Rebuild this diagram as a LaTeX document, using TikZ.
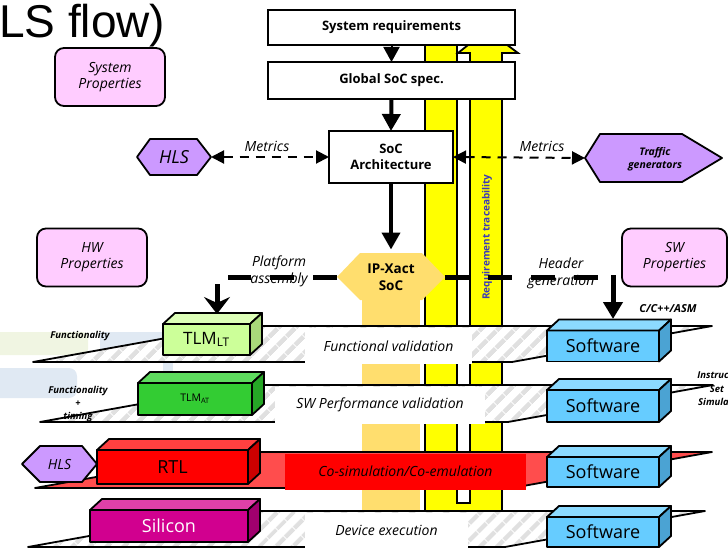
\documentclass[tikz,border=0pt]{standalone}
\usepackage{fontspec}
\setmainfont{Open Sans}
\newfontfamily\titlefont{Liberation Sans}
\usetikzlibrary{arrows.meta,calc,patterns.meta}

\definecolor{pinkbox}{HTML}{FFCCFF}
\definecolor{lav}{HTML}{CC99FF}
\definecolor{trace}{HTML}{FFFF00}
\definecolor{ipxc}{HTML}{FFDE6E}
\definecolor{traceblue}{HTML}{3A3AB8}
\definecolor{ltfront}{HTML}{CCFF99}
\definecolor{lttop}{HTML}{DDFFB8}
\definecolor{ltside}{HTML}{A8D87A}
\definecolor{atfront}{HTML}{33CC33}
\definecolor{attop}{HTML}{5EDB5E}
\definecolor{atside}{HTML}{26A626}
\definecolor{rtlfront}{HTML}{FF0000}
\definecolor{rtltop}{HTML}{FF4040}
\definecolor{rtlside}{HTML}{CC0000}
\definecolor{sifront}{HTML}{D1008F}
\definecolor{sitop}{HTML}{E040A8}
\definecolor{siside}{HTML}{A0006E}
\definecolor{swfront}{HTML}{66CCFF}
\definecolor{swtop}{HTML}{8CDAFF}
\definecolor{swside}{HTML}{4BA3D3}
\definecolor{plred}{HTML}{FF4D4D}
\definecolor{wmgreen}{HTML}{F0F5E2}
\definecolor{wmblue}{HTML}{E0E9F3}

% top and side faces of a cuboid whose front face is node #1
\newcommand\cubefaces[3]{%
  \draw[face,fill=#2] (#1.north west) -- ++(12,-11) -- ($(#1.north east)+(12,-11)$) -- (#1.north east) -- cycle;
  \draw[face,fill=#3] (#1.north east) -- ++(12,-11) -- ($(#1.south east)+(12,-11)$) -- (#1.south east) -- cycle;}

\begin{document}
\begin{tikzpicture}[x=1pt,y=-1pt,
  box/.style={draw, line width=1.8pt, fill=white, inner sep=0pt, outer sep=0pt, align=center,
    font=\bfseries\fontsize{13}{16}\selectfont},
  prop/.style={draw, line width=1.8pt, fill=pinkbox, rounded corners=9pt, inner sep=0pt,
    align=center, font=\itshape\fontsize{14}{16}\selectfont},
  hexa/.style={draw, line width=1.8pt, fill=lav, line join=round},
  spot/.style={inner sep=0pt, outer sep=0pt, align=center},
  cube/.style={draw, line width=1.8pt, inner sep=0pt, outer sep=0pt, line join=round},
  face/.style={draw, line width=1.8pt, line join=round},
  sw/.style={cube, fill=swfront, minimum width=112pt, font=\fontsize{18}{20}\selectfont},
  sheet/.style={preaction={fill=white}, pattern={Lines[angle=45,distance=13pt,line width=5pt]},
    pattern color=black!12, draw, line width=1.8pt, line join=round},
  redsheet/.style={fill=plred, draw, line width=1.8pt, line join=round},
  lab/.style={inner sep=0pt, outer sep=0pt, font=\itshape\fontsize{14}{16}\selectfont},
  ital/.style={inner sep=0pt, align=center, font=\itshape\fontsize{14}{17}\selectfont},
  note/.style={inner sep=0pt, align=center, font=\bfseries\itshape\fontsize{9.5}{13}\selectfont},
  metric/.style={line width=2pt, dash pattern=on 9pt off 7pt,
    {Triangle[length=13pt,width=13pt]}-{Triangle[length=13pt,width=13pt]}},
  flowarrow/.style={line width=4pt, -{Triangle[length=17pt,width=18pt]}},
  gen/.style={line width=5pt, dash pattern=on 24pt off 19pt},
]
\useasboundingbox (0,0) rectangle (728,548);

% faint slide template shapes
\fill[wmgreen, rounded corners=6pt] (-10,332) rectangle (88,355);
\fill[wmblue] (100,332) rectangle (165,355);
\fill[wmblue, rounded corners=8pt] (-10,368) rectangle (77,398);
\fill[wmblue] (163,360) rectangle (173,373);

% title
\node[anchor=base west, inner sep=0pt, font=\titlefont\fontsize{46}{50}\selectfont] (title) at (-1,38) {LS flow)};

% requirement traceability U-arrow
\draw[fill=trace, line width=1.8pt, line join=miter]
  (425,40) -- (425,535) -- (502,535) -- (502,53) -- (518,53) -- (487,30) -- (458,53)
  -- (470,53) -- (470,503) -- (457,503) -- (457,40) -- cycle;
\node[rotate=90, text=traceblue, font=\bfseries\fontsize{10}{12}\selectfont, inner sep=0pt]
  (trace) at (487,237) {Requirement traceability};

% IP-Xact column and hexagon
\fill[ipxc] (362,295) rectangle (420,513);
\fill[ipxc] (337,277) -- (360,253) -- (422,253) -- (445,277) -- (422,300) -- (360,300) -- cycle;
\node[spot, minimum width=108pt, minimum height=47pt, font=\bfseries\fontsize{13.5}{17}\selectfont]
  (ipx) at (391,277) {IP-Xact\\SoC};

% specification boxes
\node[box, minimum width=247pt, minimum height=35pt] (sysreq) at (391.5,27.5) {System requirements};
\node[box, minimum width=247pt, minimum height=37pt] (global) at (391.5,80.5) {Global SoC spec.};
\node[box, minimum width=124pt, minimum height=52pt, font=\bfseries\fontsize{13}{16}\selectfont]
  (socarch) at (391,157) {SoC\\Architecture};

% property boxes
\node[prop, minimum width=110pt, minimum height=58pt] (sysprop) at (110,77) {System\\Properties};
\node[prop, minimum width=110pt, minimum height=58pt] (hwprop) at (92,257.5) {HW\\Properties};
\node[prop, minimum width=105pt, minimum height=58pt] (swprop) at (674.5,257.5) {SW\\Properties};

% HLS and traffic generator hexagons
\draw[hexa] (137,157) -- (150,139) -- (197,139) -- (211,157) -- (197,175) -- (150,175) -- cycle;
\node[spot, minimum width=74pt, minimum height=36pt, font=\itshape\fontsize{18}{20}\selectfont]
  (hls) at (174,157) {HLS};
\draw[hexa] (585,158) -- (600,134) -- (682,134) -- (722,158) -- (682,182) -- (600,182) -- cycle;
\node[spot, minimum width=137pt, minimum height=48pt] (traffic) at (653.5,158) {};
\node[note, font=\bfseries\itshape\fontsize{10.5}{13}\selectfont] (trafficlab) at (655,159) {Traffic\\generators};

% flow arrows
\draw[line width=2pt, -{Triangle[length=15pt,width=16pt]}] (sysreq.south) -- (global.north);
\draw[flowarrow] (global.south) -- (socarch.north);
\draw[flowarrow, shorten >=4pt] (socarch.south) -- (ipx.north);

% metrics
\draw[metric] (hls.east) -- (socarch.west);
\draw[metric] (socarch.east) -- (traffic.west);
\node[lab] (met1) at (267,146) {Metrics};
\node[lab] (met2) at (542,146) {Metrics};

% platform assembly and header generation
\coordinate (pa) at (228,277);
\coordinate (paturn) at (217,284);
\coordinate (tlmin) at (217,314);
\coordinate (hg) at (598,277);
\coordinate (hgturn) at (613,275);
\coordinate (swin) at (613,319);
\draw[gen] (ipx.west) -- (pa);
\draw[gen] (ipx.east) -- (hg);
\draw[line width=5pt, -{Stealth[length=17pt,width=26pt,inset=6pt]}] (paturn) -- (tlmin);
\draw[line width=5pt, -{Triangle[length=17pt,width=19pt]}] (hgturn) -- (swin);
\node[ital] (platlab) at (279,271.5) {Platform\\assembly};
\node[ital] (hdrlab) at (561,273) {Header\\generation};

% abstraction planes
\path[sheet] (33,362) -- (233,326) -- (712,326) -- (512,362) -- cycle;
\node[lab, fill=white, minimum width=167pt, minimum height=36.5pt] (fv) at (388.5,345.75) {Functional validation};

\path[sheet] (40,422) -- (245,385) -- (713,385) -- (508,422) -- cycle;
\node[lab, fill=white, minimum width=210pt, minimum height=37pt] (swpv) at (380,405) {SW Performance validation};

\path[redsheet] (35,488) -- (235,452) -- (712,452) -- (512,488) -- cycle;
\node[lab, fill=rtlfront, minimum width=241pt, minimum height=36pt] (cosim) at (405.5,471.5) {Co-simulation/Co-emulation};

\path[sheet] (28,547) -- (228,511) -- (705,511) -- (505,547) -- cycle;
\node[lab, fill=white, minimum width=163pt, minimum height=36.5pt] (devex) at (386.5,530.75) {Device execution};

% hardware models
\node[cube, fill=ltfront, minimum width=87pt, minimum height=31pt, font=\fontsize{17}{20}\selectfont]
  (tlmlt) at (206.5,339.5) {TLM\textsubscript{LT}};
\cubefaces{tlmlt}{lttop}{ltside}
\node[cube, fill=atfront, minimum width=114pt, minimum height=32pt, font=\fontsize{10.5}{12}\selectfont]
  (tlmat) at (195,399) {TLM\textsubscript{AT}};
\cubefaces{tlmat}{attop}{atside}
\node[cube, fill=rtlfront, minimum width=151pt, minimum height=34pt, font=\fontsize{18}{20}\selectfont]
  (rtl) at (172.5,467) {RTL};
\cubefaces{rtl}{rtltop}{rtlside}
\node[cube, fill=sifront, minimum width=158pt, minimum height=32pt, text=white, font=\fontsize{18}{20}\selectfont]
  (silicon) at (169,526) {Silicon};
\cubefaces{silicon}{sitop}{siside}

\draw[hexa] (22,464) -- (40,446) -- (82,446) -- (97,464) -- (82,482) -- (40,482) -- cycle;
\node[spot, minimum width=75pt, minimum height=36pt, font=\itshape\fontsize{14}{16}\selectfont]
  (hls2) at (59.5,464) {HLS};

% software models
\node[sw, minimum height=31pt] (sw1) at (603,346) {Software};
\cubefaces{sw1}{swtop}{swside}
\node[sw, minimum height=32pt] (sw2) at (603,406) {Software};
\cubefaces{sw2}{swtop}{swside}
\node[sw, minimum height=30pt] (sw3) at (603,472) {Software};
\cubefaces{sw3}{swtop}{swside}
\node[sw, minimum height=30pt] (sw4) at (603,532) {Software};
\cubefaces{sw4}{swtop}{swside}

% side notes
\node[note] (func) at (80,336) {Functionality};
\node[note] (functime) at (78,404) {Functionality\\+\\timing};
\node[note, font=\bfseries\itshape\fontsize{11}{13}\selectfont] (lang) at (668,309) {C/C++/ASM};
\node[note, anchor=east] (iss1) at (729,375) {Instruc};
\node[note] (iss2) at (717,389) {Set};
\node[note, anchor=east] (iss3) at (729,402) {Simula};
\end{tikzpicture}
\end{document}
